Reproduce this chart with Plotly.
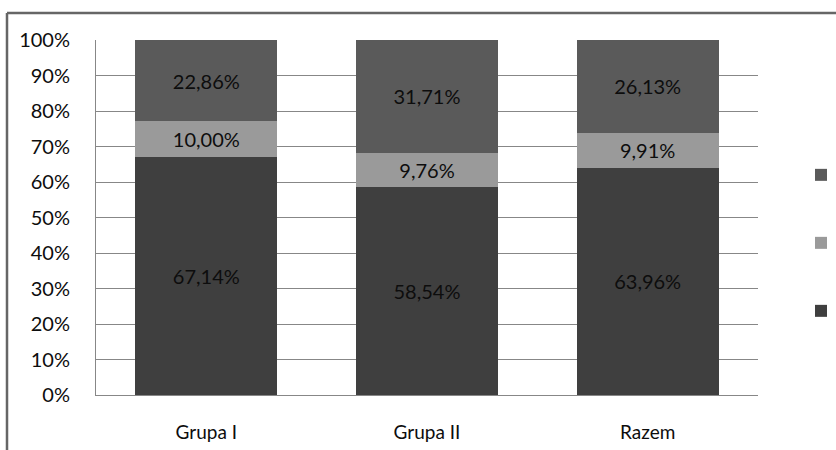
import plotly.graph_objects as go

# Groups on the x axis
categories = ["Grupa I", "Grupa II", "Razem"]

# Percentage shares per group, bottom to top of each stacked column
series_bottom = [67.14, 58.54, 63.96]
series_middle = [10.00, 9.76, 9.91]
series_top = [22.86, 31.71, 26.13]

series_names = ["Tak", "Trudno powiedzieć", "Nie"]

# Axis ticks
y_tick_values = [0, 10, 20, 30, 40, 50, 60, 70, 80, 90, 100]
y_tick_labels = ["0%", "10%", "20%", "30%", "40%", "50%", "60%", "70%", "80%", "90%", "100%"]

FONT = "Lato, 'Open Sans', sans-serif"
W, H = 836, 450
L, R, T, B = 96, 78, 40, 55
PW, PH = W - L - R, H - T - B


def px_to_paper_x(px):
    return (px - L) / PW


def px_to_paper_y(py):
    return (H - B - py) / PH


colors = ["#3f3f3f", "#9a9a9a", "#5a5a5a"]
values = [series_bottom, series_middle, series_top]
legend_ids = ["legend3", "legend2", "legend"]

fig = go.Figure()
for name, vals, col, lg in zip(series_names, values, colors, legend_ids):
    fig.add_trace(go.Bar(
        x=categories,
        y=vals,
        name=name,
        marker=dict(color=col, line=dict(width=0)),
        texttemplate="%{y:.2f}%",
        textposition="inside",
        insidetextanchor="middle",
        textangle=0,
        constraintext="none",
        textfont=dict(family=FONT, size=20, color="#0d0d0d"),
        legend=lg,
        hoverinfo="skip",
    ))

legend_common = dict(
    xanchor="left",
    yanchor="middle",
    bgcolor="rgba(0,0,0,0)",
    borderwidth=0,
    font=dict(family=FONT, size=19, color="#0d0d0d"),
)
legend_x = px_to_paper_x(801)

fig.update_layout(
    width=W,
    height=H,
    barmode="stack",
    bargap=0.357,
    separators=", ",
    paper_bgcolor="white",
    plot_bgcolor="white",
    margin=dict(l=L, r=R, t=T, b=B, pad=0, autoexpand=False),
    showlegend=True,
    legend=dict(x=legend_x, y=px_to_paper_y(175), **legend_common),
    legend2=dict(x=legend_x, y=px_to_paper_y(243), **legend_common),
    legend3=dict(x=legend_x, y=px_to_paper_y(311), **legend_common),
    xaxis=dict(
        showgrid=False,
        showline=True,
        linecolor="#878787",
        linewidth=1,
        ticks="",
        ticklabelstandoff=20,
        tickfont=dict(family=FONT, size=19, color="#0d0d0d"),
        fixedrange=True,
    ),
    yaxis=dict(
        range=[0, 100],
        tickvals=y_tick_values,
        ticktext=y_tick_labels,
        showgrid=True,
        gridcolor="#878787",
        gridwidth=1,
        zeroline=False,
        showline=True,
        linecolor="#878787",
        linewidth=1,
        ticks="",
        ticklabelstandoff=21,
        tickfont=dict(family=FONT, size=20, color="#0d0d0d"),
        fixedrange=True,
    ),
    shapes=[
        # outer chart frame (top and left edges)
        dict(type="line", xref="paper", yref="paper",
             x0=px_to_paper_x(7), x1=px_to_paper_x(W + 5),
             y0=px_to_paper_y(13), y1=px_to_paper_y(13),
             line=dict(color="#666666", width=2.5)),
        dict(type="line", xref="paper", yref="paper",
             x0=px_to_paper_x(7), x1=px_to_paper_x(7),
             y0=px_to_paper_y(13), y1=px_to_paper_y(H + 5),
             line=dict(color="#666666", width=2.5)),
    ],
)

fig.write_html("out.html")
